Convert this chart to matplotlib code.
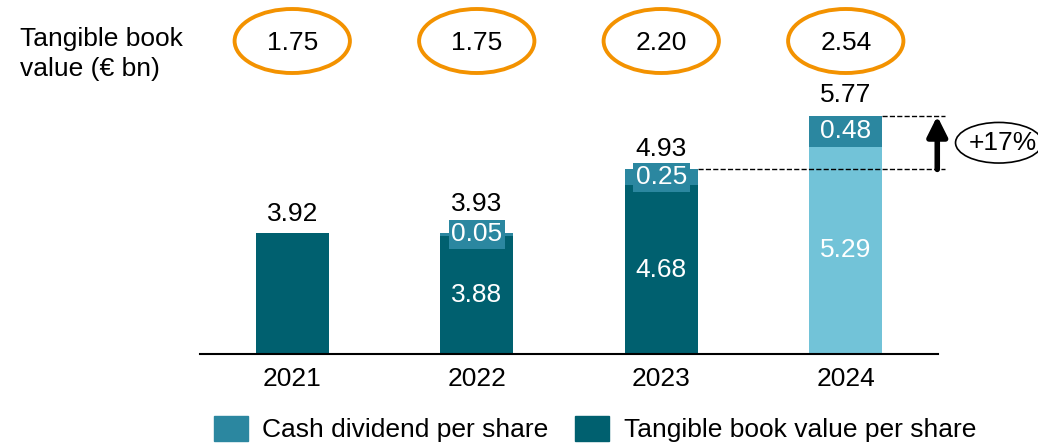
import matplotlib.pyplot as plt
from matplotlib.patches import Ellipse, Patch
from matplotlib.transforms import blended_transform_factory

plt.rcParams['font.family'] = ['Liberation Sans', 'DejaVu Sans']

# data
years = ['2021', '2022', '2023', '2024']
tbv_per_share = [3.92, 3.88, 4.68, 5.29]
dividend_per_share = [0.00, 0.05, 0.25, 0.48]
totals = [3.92, 3.93, 4.93, 5.77]
tangible_book_value = ['1.75', '1.75', '2.20', '2.54']
growth_label = '+17%'

dark = '#00606f'
mid = '#2b87a0'
light = '#72c3d8'
orange = '#f39200'
fs = 19

fig = plt.figure(figsize=(10.38, 4.46), dpi=100)
ax = fig.add_axes([200 / 1038, (446 - 354) / 446, 738 / 1038, 354 / 446])

x = list(range(len(years)))
w = 0.395
base_colors = [dark, dark, dark, light]
ax.bar(x, tbv_per_share, width=w, color=base_colors)
ax.bar(x, dividend_per_share, width=w, bottom=tbv_per_share, color=mid)

ymin = 2.02
ax.set_xlim(-0.5, 3.5)
ax.set_ylim(ymin, 7.6)
for s in ['top', 'right', 'left']:
    ax.spines[s].set_visible(False)
ax.spines['bottom'].set_linewidth(1.5)
ax.set_yticks([])
ax.set_xticks(x)
ax.set_xticklabels(years, fontsize=fs)
ax.tick_params(axis='x', length=0, pad=9)

# labels inside and on top of the bars
for i in x:
    div = dividend_per_share[i]
    if div > 0:
        ax.text(i, ymin + (tbv_per_share[i] - ymin) / 2, f'{tbv_per_share[i]:.2f}',
                ha='center', va='center', color='white', fontsize=fs)
        ax.text(i, tbv_per_share[i] + div / 2, f'{div:.2f}', ha='center', va='center',
                color='white', fontsize=fs,
                bbox=dict(boxstyle='square,pad=0.1', fc=mid, ec='none'))
    if div == 0:
        off = 14
    elif div < 0.1:
        off = 21
    else:
        off = 15
    ax.annotate(f'{totals[i]:.2f}', (i, totals[i]), xytext=(0, off),
                textcoords='offset points', ha='center', va='center', fontsize=fs)

# growth marker
ax.plot([2 + w / 2, 3.54], [totals[2], totals[2]], ls='--', color='black', lw=1, clip_on=False)
ax.plot([3 + w / 2, 3.54], [totals[3], totals[3]], ls='--', color='black', lw=1, clip_on=False)
ax.annotate('', xy=(3.496, totals[3]), xytext=(3.496, totals[2]),
            arrowprops=dict(arrowstyle='-|>', lw=4, color='black', mutation_scale=30,
                            shrinkA=0, shrinkB=0), annotation_clip=False)
mid_y = (totals[2] + totals[3]) / 2
ax.add_patch(Ellipse((3.83, mid_y), 0.47, 0.64, fill=False, ec='black', lw=1.2, clip_on=False))
ax.text(3.85, mid_y, growth_label, ha='center', va='center', fontsize=fs, clip_on=False)

# tangible book value ovals on top
trans = blended_transform_factory(ax.transData, fig.transFigure)
oval_y = 1 - 41 / 446
for i in x:
    ax.add_patch(Ellipse((i, oval_y), 0.625, 64 / 446, transform=trans, fill=False,
                         ec=orange, lw=2.8, clip_on=False))
    ax.text(i, oval_y - 2 / 446, tangible_book_value[i], transform=trans, ha='center',
            va='center', fontsize=fs)
fig.text(20 / 1038, 1 - 54 / 446, 'Tangible book\nvalue (€ bn)', ha='left', va='center',
         fontsize=fs, linespacing=1.35)

handles = [Patch(color=mid, label='Cash dividend per share'),
           Patch(color=dark, label='Tangible book value per share')]
fig.legend(handles=handles, loc='lower center', bbox_to_anchor=(595 / 1038, -0.045), ncol=2,
           frameon=False, fontsize=fs, handlelength=1.3, handleheight=1.1,
           handletextpad=0.55, columnspacing=1.0)

fig.savefig('out.png', dpi=100)
